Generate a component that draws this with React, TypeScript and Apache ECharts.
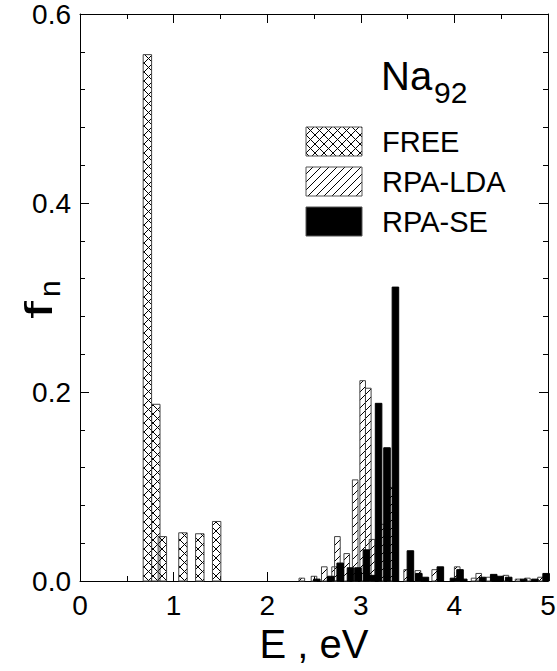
import React, { useEffect, useRef } from "react";
import * as echarts from "echarts";

// FREE (crosshatched) transitions: energy (eV) and oscillator strength
const FREE_E = [0.72, 0.81, 0.88, 1.1, 1.28, 1.46];
const FREE_F = [0.557, 0.187, 0.047, 0.051, 0.05, 0.063];

// RPA-LDA (hatched)
const LDA_E = [2.37, 2.5, 2.61, 2.72, 2.75, 2.85, 2.94, 3.02, 3.08, 3.12, 3.22, 3.31, 3.49, 3.61, 3.79, 4.03, 4.21, 4.26, 4.37, 4.55, 4.68, 4.78, 4.92];
const LDA_F = [0.003, 0.005, 0.015, 0.015, 0.047, 0.029, 0.107, 0.212, 0.204, 0.044, 0.06, 0.099, 0.012, 0.011, 0.012, 0.015, 0.003, 0.008, 0.004, 0.006, 0.002, 0.003, 0.004];

// RPA-SE (solid black)
const SE_E = [2.53, 2.68, 2.78, 2.89, 2.97, 3.06, 3.13, 3.19, 3.28, 3.37, 3.53, 3.62, 3.69, 3.85, 3.99, 4.06, 4.1, 4.3, 4.42, 4.49, 4.58, 4.74, 4.86, 4.98];
const SE_F = [0.002, 0.005, 0.019, 0.014, 0.014, 0.033, 0.006, 0.188, 0.141, 0.311, 0.032, 0.008, 0.004, 0.015, 0.003, 0.012, 0.002, 0.004, 0.007, 0.005, 0.004, 0.002, 0.002, 0.008];

const X_TICKS = [0, 1, 2, 3, 4, 5];
const Y_TICKS = [0, 0.2, 0.4, 0.6];

const LEGEND_NAMES = ["FREE", "RPA-LDA", "RPA-SE"];

const FONT = "Liberation Sans, Arial, sans-serif";

function svgUrl(svg: string) {
  return "data:image/svg+xml;charset=utf-8," + encodeURIComponent(svg);
}

const crossPattern = {
  image: svgUrl(
    "<svg xmlns='http://www.w3.org/2000/svg' width='9' height='9'><path d='M0 0L9 9M9 0L0 9' stroke='black' stroke-width='1' fill='none'/></svg>"
  ),
  repeat: "repeat",
  imageWidth: 9,
  imageHeight: 9,
};

const hatchPattern = {
  image: svgUrl(
    "<svg xmlns='http://www.w3.org/2000/svg' width='8' height='8'><path d='M0 8L8 0M-1 1L1 -1M7 9L9 7' stroke='black' stroke-width='1' fill='none'/></svg>"
  ),
  repeat: "repeat",
  imageWidth: 8,
  imageHeight: 8,
};

function barRenderer(width: number, fill: any, stroke: string) {
  return (params: any, api: any) => {
    const x = api.value(0);
    const h = api.value(1);
    const p0 = api.coord([x - width / 2, 0]);
    const p1 = api.coord([x + width / 2, h]);
    return {
      type: "rect",
      shape: { x: p0[0], y: p1[1], width: p1[0] - p0[0], height: p0[1] - p1[1] },
      style: { fill, stroke, lineWidth: 1 },
    };
  };
}

export default function App() {
  const ref = useRef<HTMLDivElement>(null);

  useEffect(() => {
    document.body.style.margin = "0";
    const chart = echarts.init(ref.current!, null, { renderer: "svg" });

    const axisCommon = {
      axisLine: { show: true, onZero: false, lineStyle: { color: "#000", width: 1 } },
      axisTick: { show: true, inside: true, length: 9, lineStyle: { color: "#000" } },
      splitLine: { show: false },
    };

    const legendY = [127, 167, 207];
    const legendFills: any[] = [crossPattern, hatchPattern, "#000"];
    const legendGraphics: any[] = [];
    LEGEND_NAMES.forEach((name, i) => {
      legendGraphics.push({
        type: "rect",
        shape: { x: 306, y: legendY[i], width: 56, height: 29 },
        style: { fill: legendFills[i], stroke: "#555", lineWidth: 1 },
      });
      legendGraphics.push({
        type: "text",
        x: 382,
        y: legendY[i] + 15,
        style: {
          text: name,
          fontSize: 29,
          fontFamily: FONT,
          fill: "#000",
          verticalAlign: "middle",
          align: "left",
        },
      });
    });

    chart.setOption({
      animation: false,
      backgroundColor: "#fff",
      grid: { left: 80, right: 9, top: 14, bottom: 90, containLabel: false, outerBoundsMode: "none" },
      xAxis: [
        {
          type: "value",
          min: 0,
          max: 5,
          interval: 1,
          position: "bottom",
          ...axisCommon,
          minorTick: { show: true, splitNumber: 2, length: 5, lineStyle: { color: "#000" } },
          axisLabel: {
            show: true,
            fontSize: 28,
            fontFamily: FONT,
            color: "#000",
            margin: 10,
            formatter: (v: number) => (X_TICKS.includes(v) ? String(v) : ""),
          },
          name: "E , eV",
          nameLocation: "middle",
          nameGap: 40,
          nameTextStyle: { fontSize: 40, fontFamily: FONT, color: "#000" },
        },
        {
          type: "value",
          min: 0,
          max: 5,
          interval: 1,
          position: "top",
          ...axisCommon,
          minorTick: { show: true, splitNumber: 2, length: 5, lineStyle: { color: "#000" } },
          axisLabel: { show: false },
        },
      ],
      yAxis: [
        {
          type: "value",
          min: 0,
          max: 0.6,
          interval: 0.2,
          position: "left",
          ...axisCommon,
          minorTick: { show: true, splitNumber: 5, length: 5, lineStyle: { color: "#000" } },
          axisLabel: {
            show: true,
            fontSize: 28,
            fontFamily: FONT,
            color: "#000",
            margin: 9,
            formatter: (v: number) => {
              const t = Y_TICKS.find((y) => Math.abs(y - v) < 1e-9);
              return t === undefined ? "" : t.toFixed(1);
            },
          },
        },
        {
          type: "value",
          min: 0,
          max: 0.6,
          interval: 0.2,
          position: "right",
          ...axisCommon,
          minorTick: { show: true, splitNumber: 5, length: 5, lineStyle: { color: "#000" } },
          axisLabel: { show: false },
        },
      ],
      series: [
        {
          type: "custom",
          name: "FREE",
          renderItem: barRenderer(0.09, crossPattern, "#444"),
          encode: { x: 0, y: 1 },
          data: FREE_E.map((e, i) => [e, FREE_F[i]]),
          z: 2,
        },
        {
          type: "custom",
          name: "RPA-LDA",
          renderItem: barRenderer(0.06, hatchPattern, "#444"),
          encode: { x: 0, y: 1 },
          data: LDA_E.map((e, i) => [e, LDA_F[i]]),
          z: 3,
        },
        {
          type: "custom",
          name: "RPA-SE",
          renderItem: barRenderer(0.07, "#000", "#000"),
          encode: { x: 0, y: 1 },
          data: SE_E.map((e, i) => [e, SE_F[i]]),
          z: 4,
        },
      ],
      graphic: [
        {
          type: "text",
          x: 381,
          y: 96,
          style: { text: "Na", fontSize: 40, fontFamily: FONT, fill: "#000", verticalAlign: "bottom", align: "left" },
        },
        {
          type: "text",
          x: 434,
          y: 107,
          style: { text: "92", fontSize: 30, fontFamily: FONT, fill: "#000", verticalAlign: "bottom", align: "left" },
        },
        {
          type: "text",
          x: 58,
          y: 319,
          rotation: Math.PI / 2,
          scaleX: 1.7,
          style: { text: "f", fontSize: 38, fontFamily: FONT, fill: "#000", verticalAlign: "bottom", align: "left" },
        },
        {
          type: "text",
          x: 64,
          y: 297,
          rotation: Math.PI / 2,
          style: { text: "n", fontSize: 30, fontFamily: FONT, fill: "#000", verticalAlign: "bottom", align: "left" },
        },
        ...legendGraphics,
      ],
    });

    return () => chart.dispose();
  }, []);

  return <div ref={ref} style={{ width: 557, height: 671 }} />;
}
